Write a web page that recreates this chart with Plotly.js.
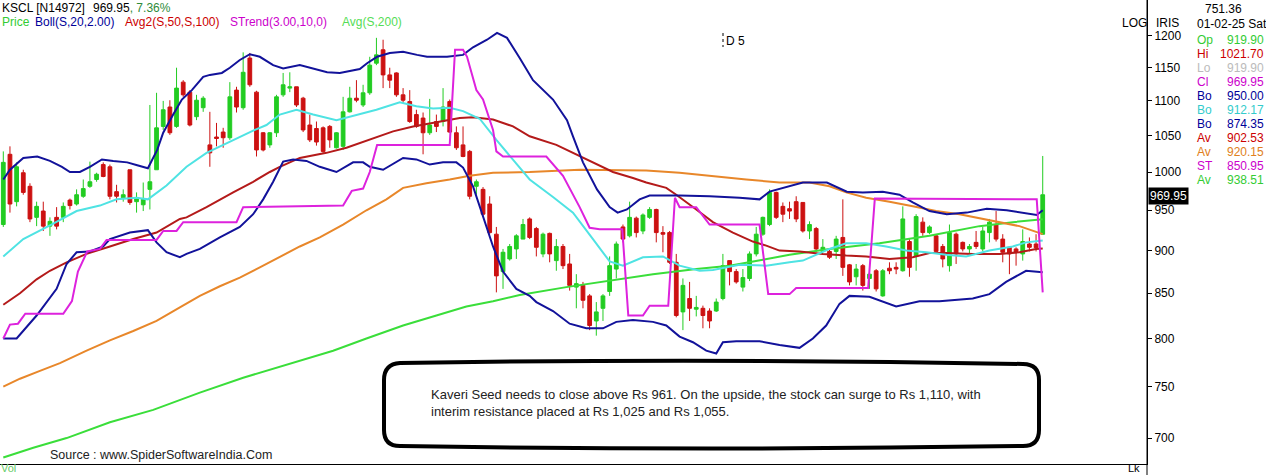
<!DOCTYPE html>
<html><head><meta charset="utf-8">
<script src="https://cdn.plot.ly/plotly-3.0.1.min.js"></script>
<style>html,body{margin:0;padding:0;background:#fff}#c{width:1266px;height:475px}</style>
</head><body><div id="c"></div>
<script>
// ---- candle data (daily, last bar 01-02-25) ----
const open = [932,1024,961,999,981,941,949,930,941,941,963,958,968,981,990,1010,1007,974,966,1003,961,957,977,1003,1063,1091,1063,1128,1113,1077,1090,1037,1048,1055,1047,1116,1090,1165,1113,1054,1037,1054,1109,1119,1121,1104,1065,1060,1061,1063,1033,1035,1084,1104,1094,1112,1157,1178,1139,1142,1109,1099,1080,1075,1054,1070,1070,1099,1054,1037,1028,981,977,958,920,875,890,902,914,939,927,896,921,888,905,884,857,859,847,819,833,852,878,929,918,940,924,941,951,922,922,886,829,844,832,833,830,830,844,888,875,857,867,896,920,932,973,955,952,961,960,924,927,899,899,899,916,883,869,882,867,876,847,879,880,876,911,893,935,922,918,905,882,920,910,902,910,902,922,932,914,904,902,896,908,908,919.9];
const high = [1028,1035,1013,1003,985,961,961,941,954,960,965,977,990,1014,999,1013,1010,983,977,1003,973,986,1094,1112,1100,1101,1150,1131,1116,1109,1107,1084,1068,1061,1128,1121,1174,1173,1115,1055,1055,1109,1142,1143,1121,1106,1080,1070,1063,1065,1055,1106,1121,1131,1124,1167,1197,1194,1150,1143,1119,1116,1087,1083,1103,1080,1119,1102,1063,1063,1030,990,980,968,929,902,908,920,939,941,929,922,922,914,908,896,872,863,849,840,849,893,911,932,961,942,946,954,952,930,924,896,867,863,847,836,833,844,896,888,878,878,899,929,942,977,974,960,961,968,960,936,929,914,902,918,964,884,884,884,876,878,878,886,886,955,914,945,941,931,920,908,932,922,911,908,924,929,939,949,920,905,904,926,916,920,1021.7];
const low = [929,947,955,970,935,930,924,918,926,935,951,956,966,979,987,993,964,960,961,957,947,949,951,1003,1058,1051,1061,1106,1063,1072,1084,1007,1035,1033,1044,1083,1087,1121,1021,1028,1033,1048,1106,1113,1091,1055,1041,1036,1026,1033,1032,1030,1083,1098,1091,1109,1154,1119,1119,1106,1097,1068,1061,1024,1051,1055,1063,1054,1030,1020,964,970,942,920,851,855,888,890,914,914,893,892,886,876,878,853,833,833,809,803,819,847,867,910,916,916,920,939,910,898,884,823,809,819,824,811,811,829,842,859,861,852,864,893,918,930,939,935,939,935,922,914,898,898,890,890,870,859,859,853,855,852,846,872,872,875,869,876,918,920,896,880,875,884,899,896,902,899,910,911,886,872,882,888,899,899,919.9];
const close = [1013,958,1007,973,939,955,930,936,930,955,956,970,978,987,997,994,968,968,970,960,966,964,987,1061,1087,1054,1119,1109,1065,1101,1104,1026,1046,1047,1106,1091,1143,1124,1030,1030,1054,1106,1124,1121,1094,1058,1044,1041,1028,1044,1054,1084,1104,1101,1112,1154,1170,1139,1131,1109,1101,1070,1063,1054,1065,1063,1091,1055,1033,1021,968,987,945,922,870,898,905,918,932,916,904,920,896,905,882,859,861,842,814,829,847,882,908,914,941,922,944,951,922,920,886,825,859,833,834,825,819,840,882,875,863,868,896,920,941,973,941,945,949,939,924,932,902,904,892,914,880,863,878,859,872,855,876,876,878,939,880,942,922,929,899,890,922,896,902,905,905,924,935,914,898,896,898,911,904,903.4,969.95];

// ---- indicator lines (x = bar number) ----
const bbUpX = [0,1,3,5.1,7,8.8,10,11.5,13,14.8,16.5,18.6,20.1,21.7,23.1,24,25.5,26.8,28.3,30,31,32.8,34,35.5,37,38.5,40.5,42,44.5,46.5,48.6,50.5,52,53.5,54.6,56.1,58,60,62.1,63.6,66.6,69,70.5,72.6,74.1,75.6,77.5,79.5,82.5,84.6,85.5,87,89.1,91,92.2,93.6,95.5,97,101.5,106,110.5,113.5,115,117.6,120,123.6,126.6,129,132,134.5,136.5,139,141.6,144.6,147.6,150.6,153.6,155.1,156];
const bbUpY = [990,1003,1019,1021,1015,1007,1000,1000,1007,1017,1015,1013,1009,1005,1030,1054,1080,1102,1116,1136,1139,1142,1150,1162,1171,1167,1154,1149,1154,1149,1143,1142,1145,1148,1157,1167,1173,1175,1170,1167,1167,1170,1182,1194,1205,1197,1165,1131,1102,1072,1049,1013,977,954,947,951,964,969,969,968,966,964,974,980,986,986,974,973,974,970,960,949,945,947,952,950,946,944,950];
const bbMidX = [0,3,7,11,14.5,17,20,21.7,24.5,27.5,30.5,34.5,37.5,39.5,41.5,44,46.5,50,53,56,59.5,62,64.5,67,69,71.5,74,76.5,79,82.5,85.5,88.5,91,93,96,99,101.5,104.5,106.5,110.5,114.5,118,120,124,126.5,129.5,132.5,135.5,138.5,141.5,144.5,148,151.5,153.5,156];
const bbMidY = [893,914,931,949,956,964,966,964,982,1007,1026,1044,1057,1065,1080,1087,1080,1072,1080,1087,1098,1092,1089,1090,1085,1074,1044,1017,990,967,947,914,887,882,892,893,882,876,877,883,882,886,888,902,909,909,905,900,898,895,893,900,905,910,912.17];
const bbLowX = [0,2,5,8,9.5,11,13,15,16,19,21.7,23,24.5,26.5,27.5,29.5,32.5,35.5,37.5,39,40.5,42,43.5,45.5,47.5,50,52.5,54,55,57,60,62,64,66,68,69,70.5,72,73.5,75,77,79,80,82.5,85,87.5,90,92,94.5,97.5,99.5,101.5,103.5,105.5,107,108,110,113.5,116.5,119.5,121.5,123.5,125.5,127,130,134,137.5,140.5,145.5,148,150.5,153.5,156];
const bbLowY = [800,800,825,855,884,898,899,905,914,922,925,910,898,892,896,902,916,929,945,964,987,1014,1017,1015,1007,1000,1013,1013,1007,1003,1019,1017,1010,1013,1013,1006,981,942,905,875,855,847,840,830,816,811,811,818,820,818,814,802,796,787,784,796,797,797,793,790,800,814,838,847,846,835,841,841,844,849,863,876,874.35];
const avg50X = [0,2.5,5,7,9.5,12.5,16,19.5,23,24.5,26.5,27.5,30.5,34.5,37.5,40,41.5,44.5,48.5,51.5,55,58.5,61.5,65,68.5,70.5,73.5,76.5,79,83,85.5,88.5,91.5,94.5,96.5,99.5,101,104,106.5,109.5,112.5,114.5,116.5,119.5,123,126.5,129.5,133,136.5,139,141.5,145.5,149.5,152.5,155,156];
const avg50Y = [837,850,866,876,886,896,905,914,922,929,939,941,954,973,987,1000,1007,1019,1026,1033,1044,1056,1063,1069,1075,1076,1073,1063,1049,1037,1026,1013,1000,992,986,979,970,951,935,922,911,906,900,899,896,894,893,890,892,897,897,896,896,898,902,902.53];
const avg100X = [0,2.5,5.5,8.5,12.5,16,19.5,23,26.5,29.5,32.5,35.5,38.5,41.5,44.5,47.5,51,54.5,57.5,60,63.5,67,70,73.5,79,86.5,96.5,101.5,106.5,111.5,116.5,121,124,126.5,129.5,133,136.5,140,143.5,146.5,149.5,152.5,156];
const avg100Y = [750,758,766,774,787,798,808,819,834,847,858,868,880,892,905,916,932,950,964,979,985,990,995,999,1000,1003,1002,999,994,990,986,986,981,973,966,961,955,949,945,940,935,930,920.15];
const avg200X = [0,4.5,9.5,16,22.5,29.5,36,42.5,49.5,54.5,60,65,69.5,73.5,77.5,84.5,91.5,97.5,104,109,114,118,124,131.5,139,146.5,151.5,156];
const avg200Y = [682,691,700,715,727,744,759,772,787,800,814,825,835,841,848,857,865,872,878,882,889,895,902,909,918,930,935,938.51];
const stX = [0,1,2.2,3.3,9,10.3,11.2,12.6,14.5,15.5,23,24,26,27,35,36,51,52.3,54,55,56.1,67,67.8,69,69.6,71,72,73.5,74,75,81.5,84,86.5,88,89.5,92.9,93.8,96,97,99.8,100.8,101.5,104,106,113.5,114.8,118,119,129.8,130.8,155.1,156];
const stY = [800,815,816,827,827,841,875,899,902,913,913,924,924,935,935,954,956,975,978,1000,1037,1037,1178,1178,1167,1116,1102,1058,1028,1021,1021,995,954,928,926,926,825,825,836,836,966,954,954,932,932,849,849,856,856,965,964,851];

// ---- labels ----
const yTicks = [700,750,800,850,900,950,1000,1050,1100,1150,1200];
const legendItems = [["Price","#33cc33",0],["Boll(S,20,2.00)","#000099",33],["Avg2(S,50,S,100)","#cc0000",123],["STrend(3.00,10,0)","#cc00cc",228],["Avg(S,200)","#55dd55",340]];
const panelLabels = ["Op","Hi","Lo","Cl","Bo","Bo","Bo","Av","Av","ST","Av"];
const panelValues = ["919.90","1021.70","919.90","969.95","950.00","912.17","874.35","902.53","920.15","850.95","938.51"];
const panelColors = ["#33cc33","#cc0000","#bbbbbb","#cc00cc","#000099","#33cccc","#000099","#cc0000","#e08020","#cc00cc","#33cc33"];
const boxLines = ["Kaveri Seed needs to close above Rs 961. On the upside, the stock can surge to Rs 1,110, with","interim resistance placed at Rs 1,025 and Rs 1,055."];

const idx = close.map((_, i) => i);
const W = 1147, H = 464;
const FONT = "Liberation Sans, Arial, sans-serif";
const px = x => x / W, py = y => (H - y) / H;
function A(text, x, y, color, opt, size) {
  return Object.assign({xref:'paper', yref:'paper', x:px(x), y:py(y), text:text, showarrow:false,
    xanchor:'left', yanchor:'middle', font:{family:FONT, size:size||12, color:color}}, opt||{});
}
function ln(x, y, color) {
  return {type:'scatter', mode:'lines', x:x, y:y, line:{color:color, width:2}, hoverinfo:'skip'};
}
const traces = [
  {type:'candlestick', x:idx, open:open, high:high, low:low, close:close, whiskerwidth:0,
   increasing:{line:{color:'#22cc22', width:1}, fillcolor:'#22cc22'},
   decreasing:{line:{color:'#cc1111', width:1}, fillcolor:'#cc1111'}, hoverinfo:'skip'},
  ln(avg200X, avg200Y, '#3ade3a'),
  ln(avg100X, avg100Y, '#e8872a'),
  ln(avg50X, avg50Y, '#b41a1a'),
  ln(bbMidX, bbMidY, '#4fe3e3'),
  ln(bbUpX, bbUpY, '#12129a'),
  ln(bbLowX, bbLowY, '#12129a'),
  ln(stX, stY, '#dd22dd')
];

const ann = [];
ann.push(A('KSCL [N14972]', 0, 8, '#000'));
ann.push(A('969.95<span style="color:#2e8b3a">, 7.36%</span>', 91, 8, '#000'));
legendItems.forEach(l => ann.push(A(l[0], l[2], 22, l[1])));
ann.push(A('D 5', 724, 41, '#000'));
ann.push(A('LOG', 1120, 23, '#000'));
ann.push(A('IRIS', 1154, 23, '#000'));
ann.push(A('751.36', 1203, 9, '#000'));
ann.push(A('01-02-25 Sat', 1195, 24, '#000'));
panelLabels.forEach((l, i) => {
  const y = 39.5 + i * 14.05;
  ann.push(A(l, 1195, y, panelColors[i]));
  ann.push(A(panelValues[i], 1266, y, panelColors[i], {xanchor:'right'}));
});
ann.push(A(close[close.length-1].toFixed(2), 1148, 196, '#fff', {bgcolor:'#000', borderpad:1}));
ann.push(A(boxLines[0], 429, 394, '#222', null, 13));
ann.push(A(boxLines[1], 429, 411, '#222', null, 13));
ann.push(A('Source : www.SpiderSoftwareIndia.Com', 48, 455, '#222', null, 12.5));
ann.push(A('Vol', -1, 468, '#66cc66', null, 11));
ann.push(A('Lk', 1126, 468, '#000', null, 11));

function P(x, y) { return px(x).toFixed(5) + ',' + py(y).toFixed(5); }
const x0 = 384, x1 = 1039, y0 = 364, y1 = 446, r = 16, mid = (x0 + x1) / 2;
const boxPath = 'M' + P(x0, y0 + r) + ' Q' + P(x0, y0) + ' ' + P(x0 + r, y0 - 1) +
  ' Q' + P(mid, y0 - 6) + ' ' + P(x1 - r, y0) + ' Q' + P(x1, y0) + ' ' + P(x1, y0 + r) +
  ' L' + P(x1, y1 - r) + ' Q' + P(x1, y1) + ' ' + P(x1 - r, y1) +
  ' Q' + P(mid, y1 + 5) + ' ' + P(x0 + r, y1) + ' Q' + P(x0, y1) + ' ' + P(x0, y1 - r) + ' Z';

const shapes = [
  {type:'path', xref:'paper', yref:'paper', path:boxPath, line:{color:'#000', width:4}},
  {type:'line', xref:'paper', yref:'paper', x0:px(723), x1:px(723), y0:py(33), y1:py(47), line:{color:'#000', width:1, dash:'dot'}},
  {type:'line', xref:'paper', yref:'paper', x0:1, x1:1, y0:py(475), y1:py(0), line:{color:'#000', width:1}}
];

const layout = {
  width:1266, height:475, margin:{l:0, r:119, t:0, b:11}, paper_bgcolor:'#fff', plot_bgcolor:'#fff',
  showlegend:false, font:{family:FONT, size:12, color:'#000'}, boxgap:0.25, boxgroupgap:0.25,
  xaxis:{range:[-0.495, 171.65], showgrid:false, zeroline:false, showticklabels:false, ticks:'',
         showline:true, linecolor:'#000', linewidth:1, rangeslider:{visible:false}, fixedrange:true},
  yaxis:{type:'log', side:'right', range:[Math.log10(676.1), Math.log10(1259.3)], tickvals:yTicks,
         ticktext:yTicks.map(String), ticks:'outside', ticklen:4, tickcolor:'#000', showline:true,
         linecolor:'#000', linewidth:1, showgrid:false, zeroline:false, fixedrange:true,
         tickfont:{family:FONT, size:12, color:'#000'}},
  annotations:ann, shapes:shapes
};
Plotly.newPlot('c', traces, layout, {displayModeBar:false, staticPlot:true});
</script></body></html>
